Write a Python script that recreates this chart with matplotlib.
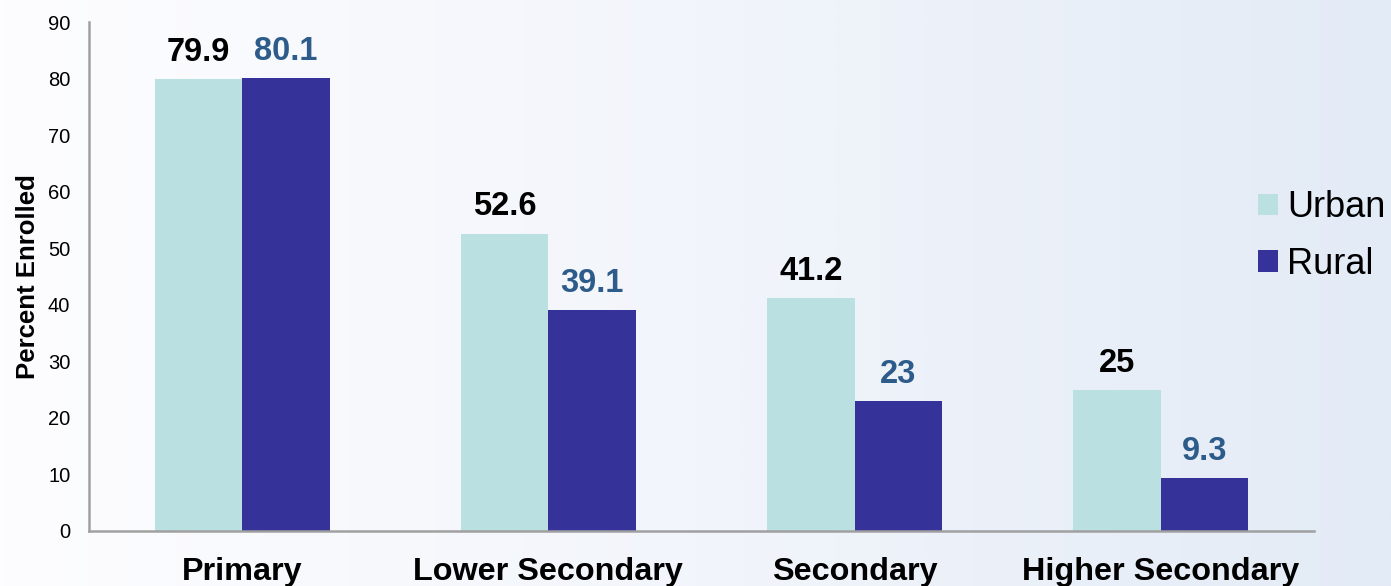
import numpy as np
import matplotlib
matplotlib.use("Agg")
import matplotlib.pyplot as plt
from matplotlib.colors import LinearSegmentedColormap

categories = ["Primary", "Lower Secondary", "Secondary", "Higher Secondary"]
urban = [79.9, 52.6, 41.2, 25]
rural = [80.1, 39.1, 23, 9.3]
urban_labels = ["79.9", "52.6", "41.2", "25"]
rural_labels = ["80.1", "39.1", "23", "9.3"]
yticks = [0, 10, 20, 30, 40, 50, 60, 70, 80, 90]

plt.rcParams['font.family'] = ['Liberation Sans', 'DejaVu Sans']

fig = plt.figure(figsize=(13.91, 5.86), dpi=100)

# background gradient
bg = fig.add_axes([0, 0, 1, 1], zorder=-10)
cmap = LinearSegmentedColormap.from_list("bg", ["#fdfdff", "#f2f5fb", "#e3ebf6"])
grad = np.linspace(0, 1, 512).reshape(1, -1)
bg.imshow(grad, aspect='auto', cmap=cmap, extent=[0, 1, 0, 1])
bg.axis('off')

ax = fig.add_axes([89/1391, 55/586, (1314-89)/1391, (531-22)/586])
ax.patch.set_alpha(0)

x = np.arange(len(categories))
w = 0.286
b1 = ax.bar(x - w/2, urban, w, color="#bae0e2", label="Urban")
b2 = ax.bar(x + w/2, rural, w, color="#353399", label="Rural")

for xi, v, s in zip(x - w/2, urban, urban_labels):
    ax.annotate(s, (xi, v), xytext=(0, 13), textcoords='offset points',
                ha='center', va='baseline', fontsize=23.5, fontweight='bold', color='black')
for xi, v, s in zip(x + w/2, rural, rural_labels):
    ax.annotate(s, (xi, v), xytext=(0, 13), textcoords='offset points',
                ha='center', va='baseline', fontsize=23.5, fontweight='bold', color='#2e5c8a')

ax.set_xlim(-0.5, 3.5)
ax.set_ylim(0, 90)
ax.set_yticks(yticks)
ax.set_yticklabels([str(t) for t in yticks], fontsize=14.5)
ax.set_xticks(x)
ax.set_xticklabels(categories, fontsize=23.3, fontweight='bold')
ax.tick_params(axis='y', length=0, pad=13.5)
ax.tick_params(axis='x', length=0, pad=19)
for s in ['top', 'right']:
    ax.spines[s].set_visible(False)
for s in ['left', 'bottom']:
    ax.spines[s].set_color('#a0a0a0')
    ax.spines[s].set_linewidth(1.8)

ax.set_ylabel("Percent Enrolled", fontsize=18.5, fontweight='bold', labelpad=6)

ax.legend(loc='center left', bbox_to_anchor=(1258/1391, 1 - 236/586), bbox_transform=fig.transFigure,
          frameon=False, fontsize=26, handlelength=0.55, handleheight=0.55, handletextpad=0.25,
          labelspacing=0.6, borderpad=0, borderaxespad=0)

fig.savefig("out.png", dpi=100)
